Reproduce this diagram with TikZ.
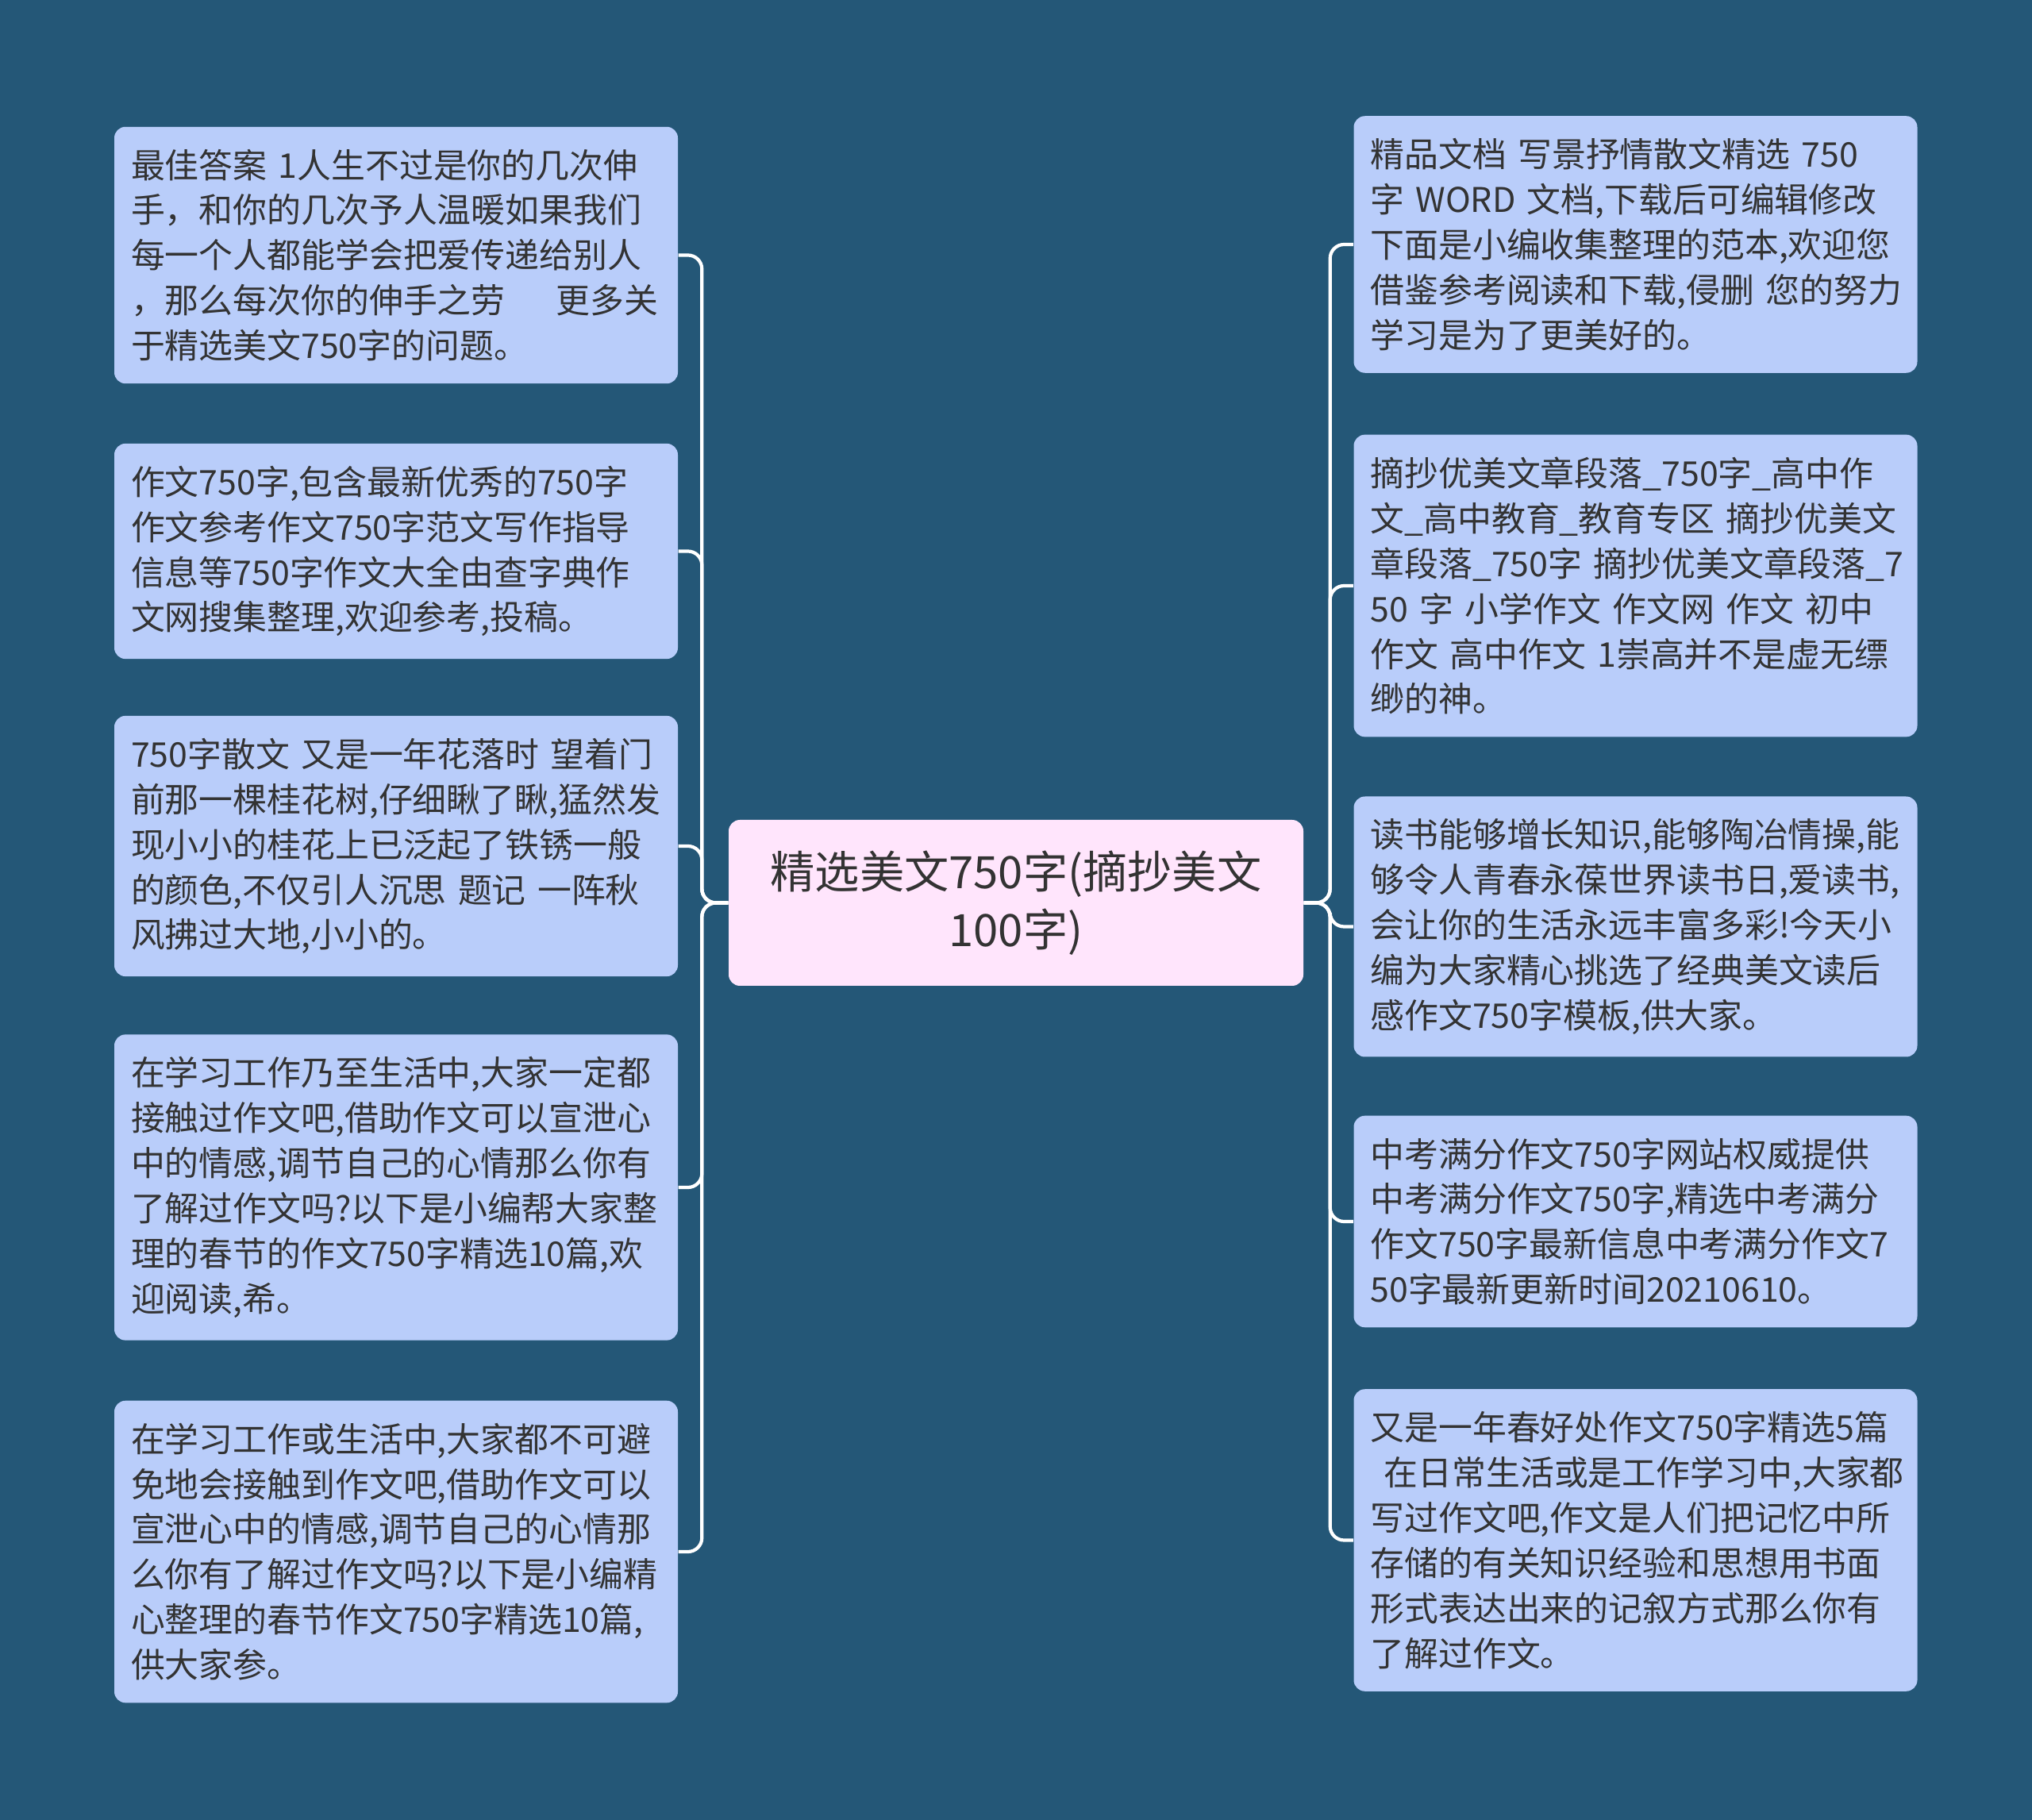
\documentclass[tikz,border=0pt]{standalone}
\usepackage{fontspec}
\newfontfamily\cjk{Noto Sans CJK SC}
\usepackage{xcolor}
\usepackage{tikz}
\usetikzlibrary{positioning}

\definecolor{bgblue}{HTML}{245777}
\definecolor{leafblue}{HTML}{B9CDFA}
\definecolor{rootpink}{HTML}{FFE5FC}
\definecolor{inkgray}{HTML}{333333}

\begin{document}
\begin{tikzpicture}[
    leaf/.style={rectangle, rounded corners=4pt, fill=leafblue, text=inkgray, text width=6.68cm, minimum width=7.1cm, inner xsep=0.21cm, inner ysep=0.28cm, align=left, font=\cjk\fontsize{12.2pt}{16.2pt}\selectfont},
    root/.style={rectangle, rounded corners=4pt, fill=rootpink, text=inkgray, text width=6.9cm, minimum width=7.24cm, minimum height=2.09cm, align=center, font=\cjk\fontsize{16pt}{20.8pt}\selectfont},
    link/.style={draw=white, line width=1.2pt, rounded corners=5pt}
]
    % Background
    \fill[bgblue] (0,0) rectangle (25.6,-22.93);

    % Central topic
    \node[root] (TOPIC) at (12.80,-11.375) {精选美文750字(摘抄美文\\100字)};

    % Left branch
    \node[leaf] (L1) at (4.99,-3.215) {最佳答案~1人生不过是你的几次伸\\手，和你的几次予人温暖如果我们\\每一个人都能学会把爱传递给别人\\，那么每次你的伸手之劳\hspace{1.5em}更多关\\于精选美文750字的问题。};
    \node[leaf] (L2) at (4.99,-6.945) {作文750字,包含最新优秀的750字\\作文参考作文750字范文写作指导\\信息等750字作文大全由查字典作\\文网搜集整理,欢迎参考,投稿。};
    \node[leaf] (L3) at (4.99,-10.66) {750字散文~又是一年花落时~望着门\\前那一棵桂花树,仔细瞅了瞅,猛然发\\现小小的桂花上已泛起了铁锈一般\\的颜色,不仅引人沉思~题记~一阵秋\\风拂过大地,小小的。};
    \node[leaf] (L4) at (4.99,-14.96) {在学习工作乃至生活中,大家一定都\\接触过作文吧,借助作文可以宣泄心\\中的情感,调节自己的心情那么你有\\了解过作文吗?以下是小编帮大家整\\理的春节的作文750字精选10篇,欢\\迎阅读,希。};
    \node[leaf] (L5) at (4.99,-19.55) {在学习工作或生活中,大家都不可避\\免地会接触到作文吧,借助作文可以\\宣泄心中的情感,调节自己的心情那\\么你有了解过作文吗?以下是小编精\\心整理的春节作文750字精选10篇,\\供大家参。};

    % Right branch
    \node[leaf] (R1) at (20.605,-3.08) {精品文档~写景抒情散文精选~750\\字~WORD~文档,下载后可编辑修改\\下面是小编收集整理的范本,欢迎您\\借鉴参考阅读和下载,侵删~您的努力\\学习是为了更美好的。};
    \node[leaf] (R2) at (20.605,-7.38) {摘抄优美文章段落\_750字\_高中作\\文\_高中教育\_教育专区~摘抄优美文\\章段落\_750字~摘抄优美文章段落\_7\\50~字~小学作文~作文网~作文~初中\\作文~高中作文~1崇高并不是虚无缥\\缈的神。};
    \node[leaf] (R3) at (20.605,-11.675) {读书能够增长知识,能够陶冶情操,能\\够令人青春永葆世界读书日,爱读书,\\会让你的生活永远丰富多彩!今天小\\编为大家精心挑选了经典美文读后\\感作文750字模板,供大家。};
    \node[leaf] (R4) at (20.605,-15.39) {中考满分作文750字网站权威提供\\中考满分作文750字,精选中考满分\\作文750字最新信息中考满分作文7\\50字最新更新时间20210610。};
    \node[leaf] (R5) at (20.605,-19.405) {又是一年春好处作文750字精选5篇\\\hspace*{0.4em}在日常生活或是工作学习中,大家都\\写过作文吧,作文是人们把记忆中所\\存储的有关知识经验和思想用书面\\形式表达出来的记叙方式那么你有\\了解过作文。};

    % Connectors
    \foreach \n in {L1,L2,L3,L4,L5}
        \draw[link] (TOPIC.west) -- ++(-0.33,0) |- (\n.east);
    \foreach \n in {R1,R2,R3,R4,R5}
        \draw[link] (TOPIC.east) -- ++(0.33,0) |- (\n.west);
\end{tikzpicture}
\end{document}
